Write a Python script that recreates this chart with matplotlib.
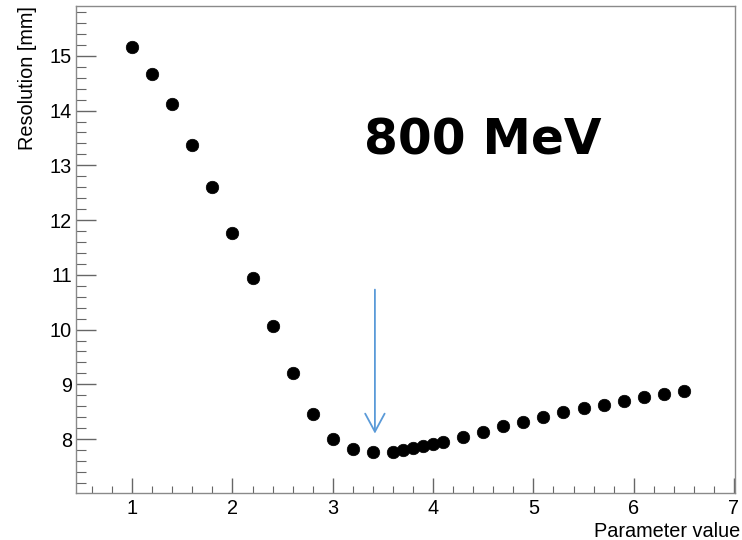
import matplotlib
matplotlib.use("Agg")
import matplotlib.pyplot as plt
from matplotlib.ticker import MultipleLocator

# scan points
param = [1.0, 1.2, 1.4, 1.6, 1.8, 2.0, 2.2, 2.4, 2.6, 2.8, 3.0, 3.2, 3.4,
         3.6, 3.7, 3.8, 3.9, 4.0, 4.1, 4.3, 4.5, 4.7, 4.9, 5.1, 5.3, 5.5,
         5.7, 5.9, 6.1, 6.3, 6.5]
resolution = [15.17, 14.66, 14.12, 13.38, 12.61, 11.77, 10.95, 10.06, 9.21,
              8.45, 8.01, 7.81, 7.76, 7.76, 7.80, 7.83, 7.87, 7.91, 7.95,
              8.04, 8.13, 8.24, 8.32, 8.41, 8.49, 8.56, 8.63, 8.70, 8.77,
              8.82, 8.87]

best_param = 3.42
label = "800 MeV"

plt.rcParams['font.family'] = ['Liberation Sans', 'DejaVu Sans']

fig = plt.figure(figsize=(7.42, 5.40), dpi=100)
ax = fig.add_axes([76/742, 47/540, 659/742, 487/540])

ax.plot(param, resolution, 'o', color='black', ms=9.0, mec='black', mew=0.5)

ax.annotate('', xy=(best_param, 8.10), xytext=(best_param, 10.73),
            arrowprops=dict(arrowstyle='->,head_length=1.3,head_width=0.7',
                            color='#5a9ad8', lw=1.3, shrinkA=0, shrinkB=0))

ax.text(3.31, 13.19, label, fontsize=35, fontweight='bold',
        family='DejaVu Sans', ha='left', va='baseline')

ax.set_xlim(0.44, 7.01)
ax.set_ylim(7.015, 15.91)
ax.xaxis.set_major_locator(MultipleLocator(1))
ax.xaxis.set_minor_locator(MultipleLocator(0.2))
ax.yaxis.set_major_locator(MultipleLocator(1))
ax.yaxis.set_minor_locator(MultipleLocator(0.2))

for s in ax.spines.values():
    s.set_color('#8a8a8a')
    s.set_linewidth(1.0)

fs = 14.3
ax.tick_params(axis='x', which='major', direction='in', length=10.5,
               width=1.0, color='#666666', labelsize=fs, pad=4)
ax.tick_params(axis='x', which='minor', direction='in', length=5.3,
               width=0.8, color='#666666')
ax.tick_params(axis='y', which='major', direction='in', length=14.5,
               width=1.0, color='#666666', labelsize=fs, pad=3)
ax.tick_params(axis='y', which='minor', direction='in', length=7.2,
               width=0.8, color='#666666')

ax.set_xlabel('Parameter value', fontsize=fs, loc='right', labelpad=3)
ax.xaxis.label.set_x(1.0076)
ax.set_ylabel('Resolution [mm]', fontsize=fs, loc='top', labelpad=9)

fig.savefig('out.png', dpi=100)
